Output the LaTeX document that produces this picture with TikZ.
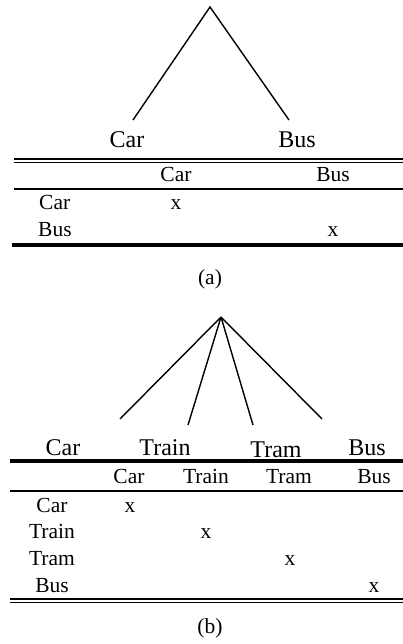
\documentclass[tikz,border=0pt]{standalone}
\usepackage{fontspec}
\setmainfont{Liberation Serif}
\usetikzlibrary{positioning}

\begin{document}
\begin{tikzpicture}[x=1pt,y=-1pt,
    leaf/.style={font=\fontsize{24}{24}\selectfont,anchor=base,inner sep=0pt},
    cell/.style={font=\fontsize{21.5}{22}\selectfont,anchor=base,inner sep=0pt},
    branch/.style={line width=1.4pt},
    rule/.style={line width=1.5pt},
    heavyrule/.style={line width=3.2pt}]
    \useasboundingbox (0,0) rectangle (403,644);

    % (a) two alternatives
    \coordinate (rootA) at (210,7);
    \coordinate[below left=113pt and 77pt of rootA] (endCarA);
    \coordinate[below right=113pt and 79pt of rootA] (endBusA);
    \draw[branch] (endCarA) -- (rootA) -- (endBusA);
    \node[leaf] (leafCarA) at (127,148) {Car};
    \node[leaf] (leafBusA) at (297,148) {Bus};

    \draw[rule] (14,159) -- (403,159);
    \draw[rule] (14,162.5) -- (403,162.5);
    \node[cell] (colCarA) at (176,182) {Car};
    \node[cell] (colBusA) at (333,182) {Bus};
    \draw[rule] (14,189) -- (403,189);
    \node[cell,anchor=base west] (rowCarA) at (39,210) {Car};
    \node[cell,anchor=base west] (rowBusA) at (38,236) {Bus};
    \node[cell] (xCarA) at (176,210) {x};
    \node[cell] (xBusA) at (333,236) {x};
    \draw[heavyrule] (12,245) -- (403,245);
    \node[cell] (capA) at (210,284) {(a)};

    % (b) four alternatives
    \coordinate (rootB) at (221,317);
    \coordinate (endCarB) at (120,419);
    \coordinate (endTrainB) at (188,425);
    \coordinate (endTramB) at (253,425);
    \coordinate (endBusB) at (322,419);
    \foreach \leaf in {endCarB,endTrainB,endTramB,endBusB}
        \draw[branch] (rootB) -- (\leaf);
    \node[leaf] (leafCarB) at (63,455) {Car};
    \node[leaf] (leafTrainB) at (165,455) {Train};
    \node[leaf] (leafTramB) at (276,457.5) {Tram};
    \node[leaf] (leafBusB) at (367,455) {Bus};

    \draw[heavyrule] (10,461) -- (403,461);
    \node[cell] (colCarB) at (129,483) {Car};
    \node[cell] (colTrainB) at (206,483) {Train};
    \node[cell] (colTramB) at (289,483) {Tram};
    \node[cell] (colBusB) at (374,483) {Bus};
    \draw[rule] (10,491) -- (403,491);
    \node[cell] (rowCarB) at (52,512) {Car};
    \node[cell] (rowTrainB) at (52,538) {Train};
    \node[cell] (rowTramB) at (52,565) {Tram};
    \node[cell] (rowBusB) at (52,592) {Bus};
    \node[cell] (xCarB) at (130,512) {x};
    \node[cell] (xTrainB) at (206,538) {x};
    \node[cell] (xTramB) at (290,565) {x};
    \node[cell] (xBusB) at (374,592) {x};
    \draw[rule] (10,599) -- (403,599);
    \draw[rule] (10,602.5) -- (403,602.5);
    \node[cell] (capB) at (210,633) {(b)};
\end{tikzpicture}
\end{document}
